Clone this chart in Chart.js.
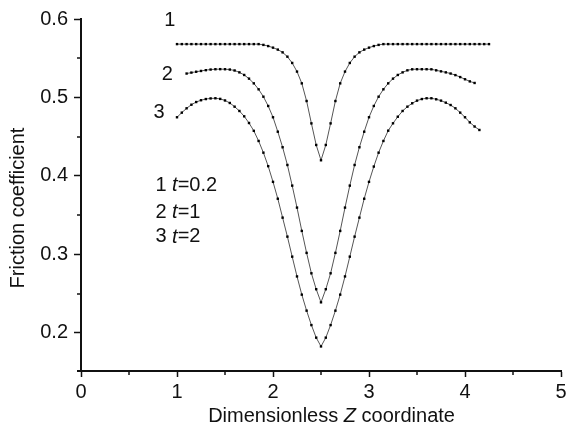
<!DOCTYPE html>
<html>
<head>
<meta charset="utf-8">
<script src="https://cdn.jsdelivr.net/npm/chart.js@4"></script>
<style>
  body { margin: 0; background: #fff; }
  #wrap { width: 566px; height: 427px; }
</style>
</head>
<body>
<div id="wrap"><canvas id="myChart" width="566" height="427"></canvas></div>
<script>
// Z grid of the computed points
var zValues = [
    1.00, 1.05, 1.10, 1.15, 1.20, 1.25, 1.30, 1.35, 1.40, 1.45,
    1.50, 1.55, 1.60, 1.65, 1.70, 1.75, 1.80, 1.85, 1.90, 1.95,
    2.00, 2.05, 2.10, 2.15, 2.20, 2.25, 2.30, 2.35, 2.40, 2.45,
    2.50, 2.55, 2.60, 2.65, 2.70, 2.75, 2.80, 2.85, 2.90, 2.95,
    3.00, 3.05, 3.10, 3.15, 3.20, 3.25, 3.30, 3.35, 3.40, 3.45,
    3.50, 3.55, 3.60, 3.65, 3.70, 3.75, 3.80, 3.85, 3.90, 3.95,
    4.00, 4.05, 4.10, 4.15, 4.20, 4.25
];

// friction coefficient, t=0.2 (from z=1.00)
var frictionT02 = [
    0.568, 0.568, 0.568, 0.568, 0.568, 0.568, 0.568, 0.568, 0.568, 0.568,
    0.568, 0.568, 0.568, 0.568, 0.568, 0.568, 0.568, 0.568, 0.5670, 0.5655,
    0.5635, 0.5610, 0.5575, 0.5520, 0.5440, 0.5330, 0.5180, 0.4955, 0.4670, 0.4395,
    0.4200, 0.4395, 0.4670, 0.4955, 0.5180, 0.5330, 0.5440, 0.5520, 0.5575, 0.5610,
    0.5635, 0.5655, 0.5670, 0.568, 0.568, 0.568, 0.568, 0.568, 0.568, 0.568,
    0.568, 0.568, 0.568, 0.568, 0.568, 0.568, 0.568, 0.568, 0.568, 0.568,
    0.568, 0.568, 0.568, 0.568, 0.568, 0.568
];

// t=1 (from z=1.10)
var frictionT1 = [
    0.5305, 0.5317, 0.5328, 0.5338, 0.5348, 0.5356, 0.5360, 0.5361, 0.5360, 0.5356,
    0.5344, 0.5320, 0.5287, 0.5240, 0.5180, 0.5104, 0.5010, 0.4892, 0.4748, 0.4564,
    0.4366, 0.4140, 0.3877, 0.3597, 0.3300, 0.3020, 0.2760, 0.2557, 0.2390, 0.2557,
    0.2760, 0.3020, 0.3300, 0.3597, 0.3877, 0.4140, 0.4366, 0.4564, 0.4748, 0.4892,
    0.5010, 0.5104, 0.5180, 0.5240, 0.5287, 0.5320, 0.5346, 0.5359, 0.5360, 0.5360,
    0.5360, 0.5359, 0.5346, 0.5333, 0.5320, 0.5305, 0.5285, 0.5260, 0.5232, 0.5205,
    0.5185
];

// t=2 (from z=1.00)
var frictionT2 = [
    0.4748, 0.4807, 0.4862, 0.4908, 0.4942, 0.4965, 0.4980, 0.4988, 0.4990, 0.4982,
    0.4962, 0.4930, 0.4883, 0.4828, 0.4760, 0.4675, 0.4575, 0.4446, 0.4297, 0.4125,
    0.3925, 0.3710, 0.3469, 0.3227, 0.2972, 0.2720, 0.2488, 0.2284, 0.2100, 0.1940,
    0.1828, 0.1940, 0.2100, 0.2284, 0.2488, 0.2720, 0.2972, 0.3227, 0.3469, 0.3710,
    0.3925, 0.4120, 0.4297, 0.4446, 0.4577, 0.4671, 0.4755, 0.4828, 0.4883, 0.4926,
    0.4960, 0.4980, 0.4990, 0.4990, 0.4977, 0.4960, 0.4934, 0.4904, 0.4862, 0.4807,
    0.4748, 0.4683, 0.4630, 0.4586
];

var curveStart = [0, 2, 0];
var curveNames = ["1", "2", "3"];
var timeValues = ["0.2", "1", "2"];

var zTicks = [0, 1, 2, 3, 4, 5];
var zMinor = [0.5, 1.5, 2.5, 3.5, 4.5];
var fTicks = [0.2, 0.3, 0.4, 0.5, 0.6];
var fMinor = [0.25, 0.35, 0.45, 0.55];

var FONT = '"Liberation Sans", Arial, sans-serif';
var INK = "#111";

// where the text sits (data units)
var tagPos = [[0.925, 0.5987], [0.900, 0.5299], [0.813, 0.4803]];
var legendPos = {z: 0.775, f: [0.3873, 0.3541, 0.3223]};

function buildPoints(values, start) {
    return values.map(function (v, i) {
        return {x: zValues[start + i], y: v};
    });
}

function drawRuns(ctx, runs, x, y, align) {
    var widths = runs.map(function (r) {
        ctx.font = (r[1] ? "italic " : "") + "20px " + FONT;
        return ctx.measureText(r[0]).width;
    });
    var total = widths.reduce(function (a, b) { return a + b; }, 0);
    var pos = align === "center" ? x - total / 2 : x;
    ctx.textAlign = "left";
    runs.forEach(function (r, i) {
        ctx.font = (r[1] ? "italic " : "") + "20px " + FONT;
        ctx.fillText(r[0], pos, y);
        pos += widths[i];
    });
}

var textPlugin = {
    id: "texts",
    afterDraw: function (chart) {
        var ctx = chart.ctx, xs = chart.scales.x, ys = chart.scales.y;
        var area = chart.chartArea;
        ctx.save();
        // minor ticks
        ctx.strokeStyle = INK;
        ctx.lineWidth = 1.5;
        zMinor.forEach(function (v) {
            var px = Math.round(xs.getPixelForValue(v));
            ctx.beginPath();
            ctx.moveTo(px, area.bottom);
            ctx.lineTo(px, area.bottom + 4);
            ctx.stroke();
        });
        fMinor.forEach(function (v) {
            var py = Math.round(ys.getPixelForValue(v));
            ctx.beginPath();
            ctx.moveTo(area.left, py);
            ctx.lineTo(area.left - 4, py);
            ctx.stroke();
        });
        // x axis line runs a little past the y axis
        ctx.lineWidth = 2;
        ctx.beginPath();
        ctx.moveTo(area.left - 4, area.bottom);
        ctx.lineTo(area.left, area.bottom);
        ctx.stroke();

        ctx.fillStyle = INK;
        ctx.textBaseline = "middle";
        ctx.font = "20px " + FONT;
        ctx.textAlign = "center";
        curveNames.forEach(function (name, i) {
            ctx.fillText(name, xs.getPixelForValue(tagPos[i][0]), ys.getPixelForValue(tagPos[i][1]));
        });
        curveNames.forEach(function (name, i) {
            drawRuns(ctx, [[name + " ", false], ["t", true], ["=" + timeValues[i], false]],
                xs.getPixelForValue(legendPos.z), ys.getPixelForValue(legendPos.f[i]), "left");
        });

        // axis titles
        ctx.textBaseline = "alphabetic";
        drawRuns(ctx, [["Dimensionless ", false], ["Z", true], [" coordinate", false]],
            xs.getPixelForValue(2.61), xs.bottom - 5.5, "center");
        ctx.translate(ys.left + 18, ys.getPixelForValue(0.3592));
        ctx.rotate(-Math.PI / 2);
        ctx.textAlign = "center";
        ctx.textBaseline = "middle";
        ctx.font = "20px " + FONT;
        ctx.fillText("Friction coefficient", 0, 0);
        ctx.restore();
    }
};

var seriesValues = [frictionT02, frictionT1, frictionT2];

new Chart("myChart", {
    type: "scatter",
    data: {
        datasets: seriesValues.map(function (vals, i) {
            return {
                label: curveNames[i],
                data: buildPoints(vals, curveStart[i]),
                showLine: true,
                borderColor: "#555",
                borderWidth: 1,
                pointStyle: "rect",
                pointRadius: 1.7,
                pointBorderWidth: 0,
                pointBackgroundColor: "#000",
                tension: 0
            };
        })
    },
    options: {
        responsive: false,
        animation: false,
        layout: {padding: {top: 19, right: 5, left: 0, bottom: 0}},
        plugins: {legend: {display: false}, tooltip: {enabled: false}},
        scales: {
            x: {
                type: "linear",
                min: 0,
                max: 5,
                afterBuildTicks: function (s) {
                    s.ticks = zTicks.map(function (v) { return {value: v}; });
                },
                afterFit: function (s) {
                    s.height = 56;
                    s.paddingRight = 0;
                    s.paddingLeft = 0;
                },
                ticks: {
                    color: INK,
                    padding: 3,
                    font: {family: FONT, size: 20},
                    callback: function (v) { return String(v); }
                },
                grid: {drawOnChartArea: false, tickLength: 6, tickWidth: 1.5, tickColor: INK},
                border: {color: INK, width: 2}
            },
            y: {
                type: "linear",
                min: 0.1515,
                max: 0.6,
                afterBuildTicks: function (s) {
                    s.ticks = fTicks.map(function (v) { return {value: v}; });
                },
                afterFit: function (s) { s.width = 81; },
                ticks: {
                    color: INK,
                    padding: 6,
                    font: {family: FONT, size: 20},
                    callback: function (v) { return v.toFixed(1); }
                },
                grid: {drawOnChartArea: false, tickLength: 7, tickWidth: 1.5, tickColor: INK},
                border: {color: INK, width: 2}
            }
        }
    },
    plugins: [textPlugin]
});
</script>
</body>
</html>
